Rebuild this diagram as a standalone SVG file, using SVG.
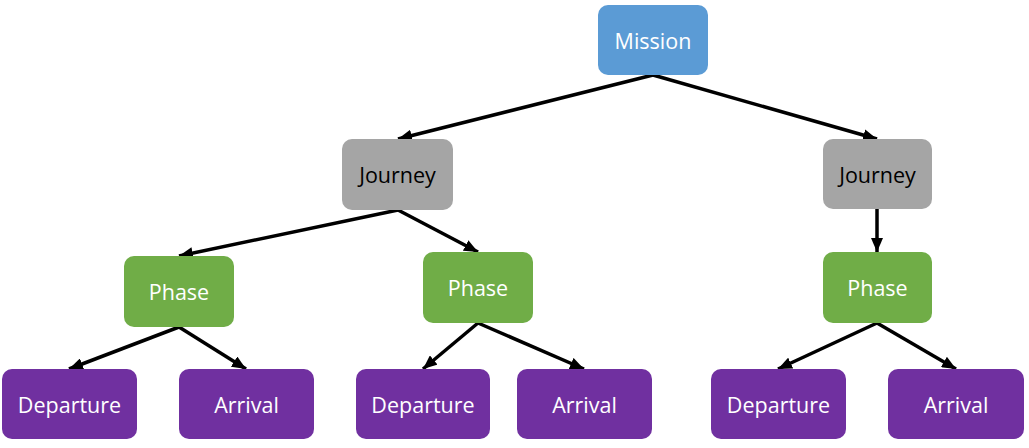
<svg xmlns="http://www.w3.org/2000/svg" width="1029" height="448" viewBox="0 0 1029 448">
<style>
.n text{font-family:"Open Sans","Noto Sans","Liberation Sans",sans-serif;font-size:21.5px;text-anchor:middle;dominant-baseline:central}
.blue rect{fill:#5B9BD5}
.grey rect{fill:#A5A5A5}
.green rect{fill:#70AD47}
.purple rect{fill:#7030A0}
.w text{fill:#FFFFFF}
.k text{fill:#000000}
.c line{stroke:#000;stroke-width:3.5;marker-end:url(#ah)}
</style>
<defs>
<marker id="ah" markerUnits="userSpaceOnUse" markerWidth="14" markerHeight="12" refX="14" refY="6" orient="auto" viewBox="0 0 14 12">
<path d="M0,0 L14,6 L0,12 Z" fill="#000"/>
</marker>
</defs>
<rect width="1029" height="448" fill="#fff"/>
<g class="c" id="connectors">
<line x1="653" y1="75" x2="398" y2="139"/>
<line x1="653" y1="75" x2="877" y2="139"/>
<line x1="398" y1="210" x2="179" y2="256"/>
<line x1="398" y1="210" x2="478" y2="252"/>
<line x1="877" y1="209" x2="877" y2="252"/>
<line x1="179" y1="327" x2="69" y2="369"/>
<line x1="179" y1="327" x2="246" y2="369"/>
<line x1="478" y1="323" x2="423" y2="369"/>
<line x1="478" y1="323" x2="584" y2="369"/>
<line x1="877" y1="323" x2="778" y2="369"/>
<line x1="877" y1="323" x2="956" y2="369"/>
</g>
<g class="n blue w" id="mission"><rect x="598" y="5" width="110" height="70" rx="10"/><text x="653" y="40">Mission</text></g>
<g class="n grey k" id="journey1"><rect x="342" y="139" width="111" height="71" rx="10"/><text x="397.5" y="174">Journey</text></g>
<g class="n grey k" id="journey2"><rect x="823" y="139" width="109" height="70" rx="10"/><text x="877.5" y="174">Journey</text></g>
<g class="n green w" id="phase1"><rect x="124" y="256" width="110" height="71" rx="10"/><text x="179" y="291">Phase</text></g>
<g class="n green w" id="phase2"><rect x="423" y="252" width="110" height="71" rx="10"/><text x="478" y="287">Phase</text></g>
<g class="n green w" id="phase3"><rect x="823" y="252" width="109" height="71" rx="10"/><text x="877.5" y="287">Phase</text></g>
<g class="n purple w" id="dep1"><rect x="2" y="369" width="135" height="70" rx="10"/><text x="69.5" y="404">Departure</text></g>
<g class="n purple w" id="arr1"><rect x="179" y="369" width="135" height="70" rx="10"/><text x="246.5" y="404">Arrival</text></g>
<g class="n purple w" id="dep2"><rect x="356" y="369" width="134" height="70" rx="10"/><text x="423" y="404">Departure</text></g>
<g class="n purple w" id="arr2"><rect x="517" y="369" width="135" height="70" rx="10"/><text x="584.5" y="404">Arrival</text></g>
<g class="n purple w" id="dep3"><rect x="711" y="369" width="135" height="70" rx="10"/><text x="778.5" y="404">Departure</text></g>
<g class="n purple w" id="arr3"><rect x="888" y="369" width="136" height="70" rx="10"/><text x="956" y="404">Arrival</text></g>
</svg>
